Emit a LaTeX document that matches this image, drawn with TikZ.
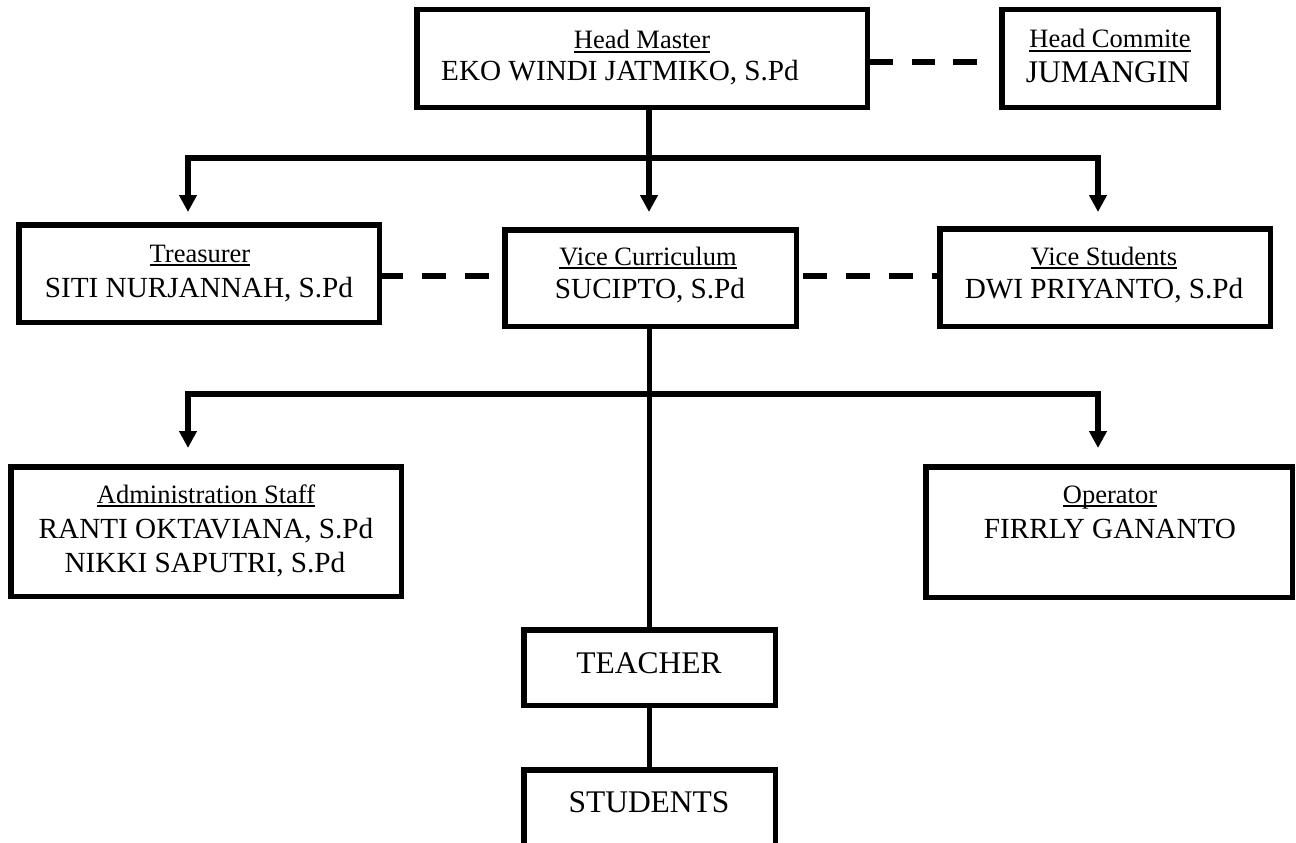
\documentclass[tikz,border=0pt]{standalone}
\usepackage{fontspec}
\setmainfont{Liberation Serif}
\usetikzlibrary{arrows.meta}
\newcommand\myul[1]{\setbox0\hbox{#1}\rlap{\rule[-4pt]{\wd0}{1.8pt}}\box0}
\begin{document}
\begin{tikzpicture}[x=1pt,y=-1pt,
  box/.style={draw, line width=5.5pt, inner sep=0pt, outer sep=0pt},
  conn/.style={line width=5.5pt},
  dline/.style={line width=5.5pt, dash pattern=on 24pt off 19pt},
  tip/.style={-{Triangle[length=17pt,width=17pt]}},
  twotip/.style={{Triangle[length=17pt,width=17pt]}-{Triangle[length=17pt,width=17pt]}},
  lab/.style={font=\fontsize{26.5}{30}\selectfont, inner sep=0pt, anchor=base},
  nam/.style={font=\fontsize{29.2}{34}\selectfont, inner sep=0pt, anchor=base},
  big/.style={font=\fontsize{31.5}{36}\selectfont, inner sep=0pt, anchor=base}]
\clip (0,0) rectangle (1296,843);
\fill[white] (0,0) rectangle (1296,843);
% boxes
\node[box, minimum width=450.5pt, minimum height=97.5pt] (hm) at (642,58.5) {};
\node[box, minimum width=216.5pt, minimum height=97.5pt] (hc) at (1110,58.5) {};
\node[box, minimum width=360.5pt, minimum height=97.5pt] (tr) at (199,273.5) {};
\node[box, minimum width=291.5pt, minimum height=96.5pt] (vc) at (650.5,278) {};
\node[box, minimum width=330.5pt, minimum height=97.5pt] (vs) at (1105,277.5) {};
\node[box, minimum width=390.5pt, minimum height=129.5pt] (ad) at (206,531.5) {};
\node[box, minimum width=366.5pt, minimum height=130.5pt] (op) at (1109,532) {};
\node[box, minimum width=251.5pt, minimum height=75.5pt] (te) at (649.5,667.5) {};
\node[box, minimum width=251.5pt, minimum height=130pt] (st) at (649.5,834.75) {};
% texts
\node[lab] (hmL) at (642,49) {\myul{Head Master}};
\node[nam] (hmN) at (620,81) {EKO WINDI JATMIKO, S.Pd};
\node[lab] (hcL) at (1110,48) {\myul{Head Commite}};
\node[big] (hcN) at (1108,83) {JUMANGIN};
\node[lab] (trL) at (200,262) {\myul{Treasurer}};
\node[nam] (trN) at (199,297) {SITI NURJANNAH, S.Pd};
\node[lab] (vcL) at (648,265) {\myul{Vice Curriculum}};
\node[nam] (vcN) at (650,298) {SUCIPTO, S.Pd};
\node[lab] (vsL) at (1104,265) {\myul{Vice Students}};
\node[nam] (vsN) at (1104,298) {DWI PRIYANTO, S.Pd};
\node[lab] (adL) at (206,503) {\myul{Administration Staff}};
\node[nam] (adN1) at (206,538) {RANTI OKTAVIANA, S.Pd};
\node[nam] (adN2) at (205,572) {NIKKI SAPUTRI, S.Pd};
\node[lab] (opL) at (1110,503) {\myul{Operator}};
\node[nam] (opN) at (1110,538) {FIRRLY GANANTO};
\node[big] (teN) at (649,673) {TEACHER};
\node[big] (stN) at (649,812) {STUDENTS};
% helper coordinates
\coordinate (b1) at (649,158);
\coordinate (b1l) at (188,158);
\coordinate (b1r) at (1098,158);
\coordinate (b2l) at (188,394);
\coordinate (b2r) at (1098,394);
\coordinate (dl) at (0,276);
% dashed links
\draw[line width=5.5pt, dash pattern=on 26pt off 19pt on 23pt off 18pt on 24pt off 40pt]
  ([yshift=-3.5pt]hm.east) -- ([yshift=-3.5pt]hc.west);
\draw[dline] (tr.east |- dl) -- (vc.west |- dl);
\draw[dline, dash phase=16pt] (vs.west |- dl) -- (vc.east |- dl);
% tree connectors
\draw[conn, tip, shorten >=17.75pt] (hm.south -| b1) -- (vc.north -| b1);
\draw[conn, line join=miter, twotip, shorten <=12.75pt, shorten >=16.75pt]
  (tr.north -| b1l) -- (b1l) -- (b1r) -- (vs.north -| b1r);
\draw[conn] (vc.south -| te.north) -- (te.north);
\draw[conn, line join=miter, twotip, shorten <=18.75pt, shorten >=18.75pt]
  (ad.north -| b2l) -- (b2l) -- (b2r) -- (op.north -| b2r);
\draw[conn] (te.south) -- (st.north);
\end{tikzpicture}
\end{document}
